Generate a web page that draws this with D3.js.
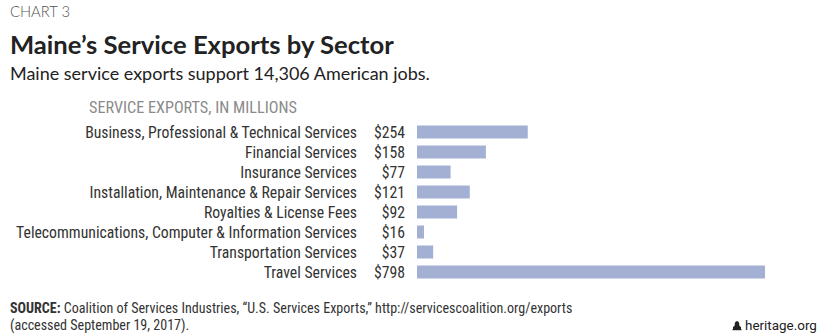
<!DOCTYPE html>
<html>
<head>
<meta charset="utf-8">
<script src="https://cdn.jsdelivr.net/npm/d3@7"></script>
<style>
  html, body { margin: 0; padding: 0; background: #fff; }
  svg { display: block; }
</style>
</head>
<body>
<svg id="chart" width="825" height="336"></svg>
<script>
// Sectors and their service exports (millions of USD)
const sectors = [
  "Business, Professional & Technical Services",
  "Financial Services",
  "Insurance Services",
  "Installation, Maintenance & Repair Services",
  "Royalties & License Fees",
  "Telecommunications, Computer & Information Services",
  "Transportation Services",
  "Travel Services"
];
const exportsMillions = [254, 158, 77, 121, 92, 16, 37, 798];

const chartLabel = "CHART 3";
const title = "Maine\u2019s Service Exports by Sector";
const subtitle = "Maine service exports support 14,306 American jobs.";
const axisHeader = "SERVICE EXPORTS, IN MILLIONS";

const svg = d3.select("#chart");
const font = "'Liberation Sans Narrow', 'Roboto Condensed', Roboto, sans-serif";
const headFont = "Lato, 'Open Sans', sans-serif";

// fit a text element to a target width by adjusting its font size
function fitWidth(sel, target) {
  const node = sel.node();
  const w = node.getComputedTextLength();
  const fs = parseFloat(sel.attr("font-size"));
  if (w > 0) sel.attr("font-size", (fs * target / w).toFixed(2));
  return sel;
}

svg.append("text").attr("x", 10).attr("y", 17)
  .attr("font-family", headFont).attr("font-weight", 300)
  .attr("font-size", 14).attr("fill", "#555").text(chartLabel)
  .call(s => fitWidth(s, 60));

svg.append("text").attr("x", 10).attr("y", 54)
  .attr("font-family", headFont).attr("font-weight", 700)
  .attr("font-size", 26).attr("fill", "#222").text(title)
  .call(s => fitWidth(s, 384));

svg.append("text").attr("x", 10).attr("y", 80)
  .attr("font-family", headFont).attr("font-weight", 400)
  .attr("font-size", 19).attr("fill", "#222").text(subtitle)
  .call(s => fitWidth(s, 420));

svg.append("text").attr("x", 89).attr("y", 113)
  .attr("font-family", font).attr("font-size", 14).attr("fill", "#8a8a8a")
  .text(axisHeader)
  .call(s => fitWidth(s, 208));

// scales
const x = d3.scaleLinear().domain([0, 798]).range([417, 765]);
const y = d3.scaleBand().domain(sectors).range([122, 282]).paddingInner(0.35).paddingOuter(0.175);

const rows = svg.append("g");
const row = rows.selectAll("g").data(sectors.map((s, i) => ({ s, v: exportsMillions[i] })))
  .join("g");

row.append("rect")
  .attr("x", x(0))
  .attr("y", d => y(d.s))
  .attr("width", d => x(d.v) - x(0))
  .attr("height", y.bandwidth())
  .attr("fill", "#a3b0d3");

row.append("text")
  .attr("class", "val")
  .attr("x", 405)
  .attr("y", d => y(d.s) + y.bandwidth() / 2)
  .attr("dy", "0.36em")
  .attr("text-anchor", "end")
  .attr("font-family", font).attr("font-size", 15.5).attr("fill", "#333")
  .text(d => "$" + d.v);

const catLabels = row.append("text")
  .attr("x", 357)
  .attr("y", d => y(d.s) + y.bandwidth() / 2)
  .attr("dy", "0.36em")
  .attr("text-anchor", "end")
  .attr("font-family", font).attr("font-size", 15.5).attr("fill", "#333")
  .text(d => d.s);

// size the row labels so the longest one spans the available width
{
  const longest = catLabels.filter(d => d.s.startsWith("Telecom"));
  const w = longest.node().getComputedTextLength();
  const fs = 15.5 * 341 / w;
  row.selectAll("text").attr("font-size", fs.toFixed(2));
}

// source note
const src = svg.append("text").attr("x", 10).attr("y", 313)
  .attr("font-family", font).attr("font-size", 14).attr("fill", "#333");
src.append("tspan").attr("font-weight", 700).text("SOURCE: ");
src.append("tspan").text("Coalition of Services Industries, \u201cU.S. Services Exports,\u201d http://servicescoalition.org/exports");
fitWidth(src, 563);
svg.append("text").attr("x", 10).attr("y", 330)
  .attr("font-family", font).attr("font-size", src.attr("font-size")).attr("fill", "#333")
  .text("(accessed September 19, 2017).");

// heritage.org mark
const logo = svg.append("g").attr("transform", "translate(733,320)");
logo.append("path")
  .attr("d", "M0,9 L0,7 L1.5,6 L2,2.5 Q4,-0.5 6,2.5 L6.5,6 L8,7 L8,9 Z")
  .attr("fill", "#222");
logo.append("rect").attr("x", -0.5).attr("y", 9).attr("width", 9).attr("height", 1.2).attr("fill", "#222");
svg.append("text").attr("x", 745).attr("y", 330)
  .attr("font-family", "Roboto, sans-serif").attr("font-size", 14).attr("fill", "#222")
  .text("heritage.org")
  .call(s => fitWidth(s, 72));
</script>
</body>
</html>
